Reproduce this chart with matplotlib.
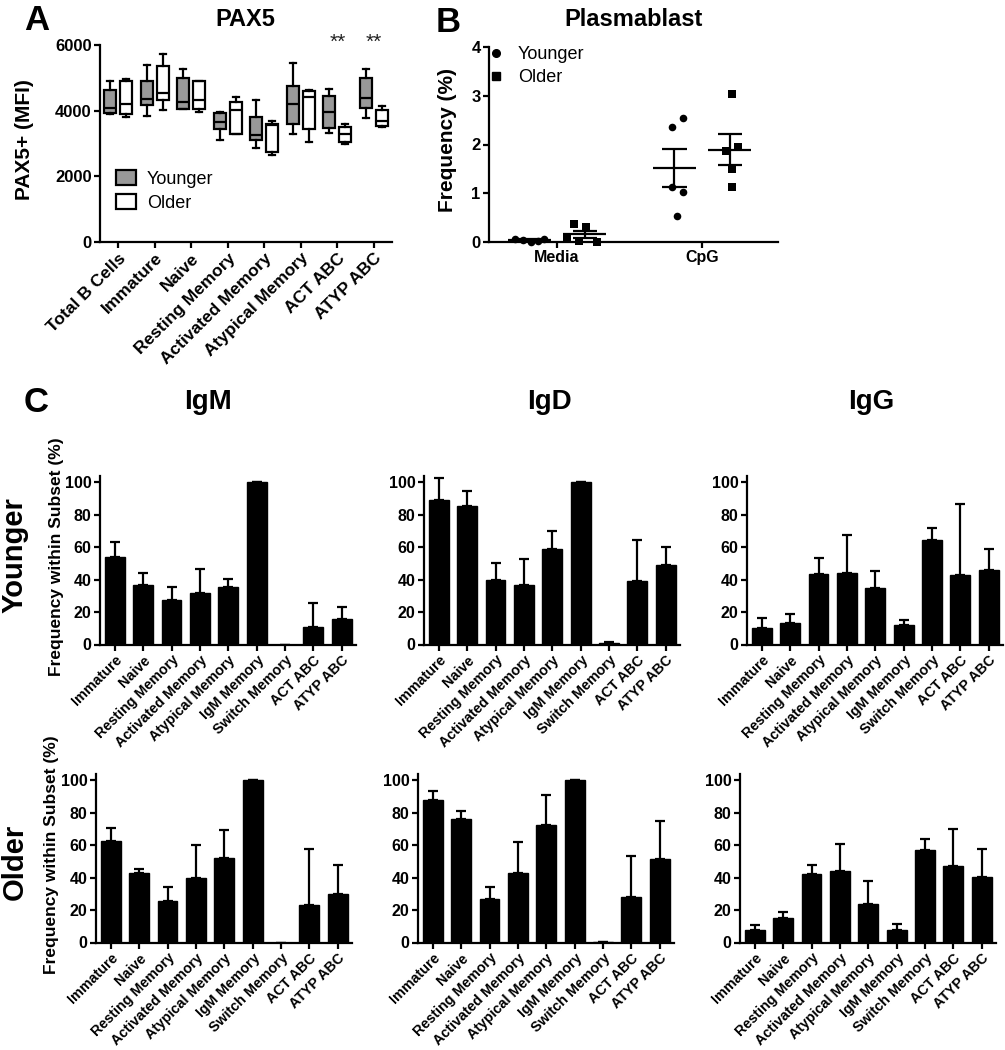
import matplotlib
matplotlib.use("Agg")
import matplotlib.pyplot as plt
import numpy as np
from matplotlib.lines import Line2D
from matplotlib.patches import Patch

plt.rcParams["font.family"] = ["Liberation Sans", "DejaVu Sans"]
plt.rcParams["font.weight"] = "bold"
plt.rcParams["axes.labelweight"] = "bold"

W, H = 1005, 1050

# ---- panel A: PAX5 MFI box plots ----
pax5_cells = ["Total B Cells", "Immature", "Naive", "Resting Memory",
              "Activated Memory", "Atypical Memory", "ACT ABC", "ATYP ABC"]
young_lo = [3910, 3830, 4050, 3120, 2870, 3300, 3330, 3790]
young_q1 = [3930, 4180, 4060, 3450, 3100, 3600, 3480, 4090]
young_med = [4090, 4370, 4260, 3650, 3250, 4210, 3960, 4400]
young_q3 = [4620, 4900, 5000, 3930, 3810, 4750, 4440, 5000]
young_hi = [4890, 5380, 5280, 3960, 4310, 5460, 4670, 5260]
old_lo = [3810, 4030, 3960, 3300, 2640, 3050, 2970, 3500]
old_q1 = [3910, 4310, 4060, 3300, 2740, 3450, 3050, 3530]
old_med = [4190, 4540, 4310, 4010, 3560, 4420, 3300, 3700]
old_q3 = [4890, 5360, 4890, 4260, 3580, 4600, 3500, 4010]
old_hi = [4950, 5740, 4890, 4420, 3690, 4620, 3580, 4130]
pax5_stars = ["", "", "", "", "", "", "**", "**"]

# ---- panel B: plasmablast frequency ----
stim = ["Media", "CpG"]
media_young = [0.07, 0.04, 0.01, 0.02, 0.06]
media_old = [0.36, 0.30, 0.08, 0.03, 0.01]
cpg_young = [2.36, 2.55, 1.13, 1.03, 0.53]
cpg_old = [3.04, 1.86, 1.95, 1.50, 1.13]

# ---- panel C: isotype frequency within subset (mean, SEM) ----
subsets = ["Immature", "Naive", "Resting Memory", "Activated Memory",
           "Atypical Memory", "IgM Memory", "Switch Memory", "ACT ABC", "ATYP ABC"]
igm_young = [54.0, 37.0, 27.4, 31.5, 35.2, 100, 0, 11.0, 15.5]
igm_young_sem = [9.3, 7.2, 7.8, 15.4, 5.1, 0, 0, 14.4, 7.4]
igd_young = [89.3, 85.4, 40.1, 37.0, 59.2, 100, 1.0, 39.3, 48.9]
igd_young_sem = [13.4, 9.3, 10.5, 15.6, 10.8, 0, 0.3, 25.0, 11.3]
igg_young = [10.0, 13.4, 43.8, 44.4, 35.0, 12.2, 64.7, 43.2, 45.8]
igg_young_sem = [6.3, 5.4, 9.8, 23.4, 10.2, 2.9, 7.2, 43.7, 13.4]
igm_old = [62.7, 43.0, 25.5, 39.9, 52.2, 100, 0, 23.1, 30.0]
igm_old_sem = [8.2, 2.6, 8.5, 20.3, 17.4, 0, 0, 34.9, 18.1]
igd_old = [87.7, 76.0, 26.8, 42.6, 72.3, 100, 0.5, 28.2, 51.6]
igd_old_sem = [6.1, 5.1, 7.6, 19.2, 18.5, 0, 0, 25.0, 23.4]
igg_old = [8.0, 15.3, 42.2, 44.2, 23.7, 7.5, 57.3, 47.1, 40.5]
igg_old_sem = [3.0, 3.7, 5.5, 16.8, 14.3, 4.0, 6.4, 23.2, 17.2]

# horizontal scatter offsets for the dot plot (layout only)
media_young_dx = [-0.10, -0.045, 0.01, 0.06, 0.10]
media_old_dx = [-0.076, 0.007, -0.124, -0.04, 0.083]
cpg_young_dx = [-0.017, 0.059, -0.017, 0.059, 0.017]
cpg_old_dx = [0.017, -0.024, 0.059, 0.017, 0.017]

LW = 1.6
GRAY = "#999999"


def axes_px(fig, left, top, right, bottom):
    return fig.add_axes([left / W, 1 - bottom / H, (right - left) / W, (bottom - top) / H])


def label_px(fig, x, y, s, **kw):
    fig.text(x / W, 1 - y / H, s, ha=kw.pop("ha", "center"), va=kw.pop("va", "center"), **kw)


def prism(ax, labelsize):
    for side in ["top", "right"]:
        ax.spines[side].set_visible(False)
    for side in ["left", "bottom"]:
        ax.spines[side].set_linewidth(LW)
    ax.tick_params(direction="out", length=4.5, width=LW, labelsize=labelsize, pad=1.5)


def rotate_labels(ax, size):
    for lab in ax.get_xticklabels():
        lab.set_rotation(45)
        lab.set_ha("right")
        lab.set_va("top")
        lab.set_rotation_mode("anchor")
        lab.set_fontsize(size)


fig = plt.figure(figsize=(W / 100, H / 100), dpi=100)

# ---------------- A ----------------
ax = axes_px(fig, 100, 45, 392, 242)
pos = np.arange(len(pax5_cells))
young_stats = [dict(whislo=a, q1=b, med=c, q3=d, whishi=e)
               for a, b, c, d, e in zip(young_lo, young_q1, young_med, young_q3, young_hi)]
old_stats = [dict(whislo=a, q1=b, med=c, q3=d, whishi=e)
             for a, b, c, d, e in zip(old_lo, old_q1, old_med, old_q3, old_hi)]
for stats, offset, color in [(young_stats, -0.22, GRAY), (old_stats, 0.22, "white")]:
    ax.bxp(stats, positions=pos + offset, widths=0.34, patch_artist=True, showfliers=False,
           manage_ticks=False,
           boxprops=dict(facecolor=color, edgecolor="black", linewidth=LW),
           medianprops=dict(color="black", linewidth=LW),
           whiskerprops=dict(color="black", linewidth=LW),
           capprops=dict(color="black", linewidth=LW))
for i, star in enumerate(pax5_stars):
    if star:
        ax.text(i, 6080, star, ha="center", va="center", fontsize=15, weight="normal",
                color="#222222", clip_on=False)
ax.set_xlim(-0.5, len(pax5_cells) - 0.5)
ax.set_ylim(0, 6000)
ax.set_yticks([0, 2000, 4000, 6000])
ax.set_xticks(pos)
ax.set_xticklabels(pax5_cells)
prism(ax, 12)
rotate_labels(ax, 12.5)
ax.legend(handles=[Patch(facecolor=GRAY, edgecolor="black", linewidth=LW, label="Younger"),
                   Patch(facecolor="white", edgecolor="black", linewidth=LW, label="Older")],
          loc="upper left", bbox_to_anchor=(0.055, 0.365), frameon=False, borderpad=0,
          borderaxespad=0, handlelength=1.1, handleheight=0.9, handletextpad=0.6,
          labelspacing=0.35, prop=dict(size=13, weight="normal"))
label_px(fig, 245, 20, "PAX5", fontsize=17, weight="bold")
label_px(fig, 25, 140, "PAX5+ (MFI)", fontsize=15, weight="bold", rotation=90)
label_px(fig, 24, 20, "A", fontsize=25, weight="bold", ha="left")

# ---------------- B ----------------
ax = axes_px(fig, 489, 47, 778, 242)
groups = [(0, -0.19, media_young, media_young_dx, "o"),
          (0, 0.19, media_old, media_old_dx, "s"),
          (1, -0.19, cpg_young, cpg_young_dx, "o"),
          (1, 0.19, cpg_old, cpg_old_dx, "s")]
for cat, off, vals, dx, marker in groups:
    vals = np.asarray(vals)
    x0 = cat + off
    ax.scatter(x0 + np.asarray(dx), vals, marker=marker, s=30, color="black", zorder=3,
               clip_on=False, linewidths=0)
    mean = vals.mean()
    sem = vals.std(ddof=1) / np.sqrt(len(vals))
    ax.hlines(mean, x0 - 0.15, x0 + 0.15, color="black", lw=LW)
    ax.hlines([mean - sem, mean + sem], x0 - 0.083, x0 + 0.083, color="black", lw=LW)
    ax.vlines(x0, mean - sem, mean + sem, color="black", lw=LW)
ax.set_xlim(-0.469, 1.524)
ax.set_ylim(0, 4)
ax.set_yticks([0, 1, 2, 3, 4])
ax.set_xticks([0, 1])
ax.set_xticklabels(stim)
prism(ax, 12)
ax.tick_params(axis="x", labelsize=11.5)
ax.legend(handles=[Line2D([], [], marker="o", ls="none", color="black", markersize=5.5, label="Younger"),
                   Line2D([], [], marker="s", ls="none", color="black", markersize=5.5, label="Older")],
          loc="upper left", bbox_to_anchor=(0.0, 1.005), frameon=False, borderpad=0,
          borderaxespad=0, handlelength=0.8, handletextpad=0.8, labelspacing=0.35,
          prop=dict(size=13, weight="normal"))
label_px(fig, 634, 20, "Plasmablast", fontsize=17, weight="bold")
label_px(fig, 447, 140, "Frequency (%)", fontsize=15, weight="bold", rotation=90)
label_px(fig, 436, 22, "B", fontsize=25, weight="bold", ha="left")

# ---------------- C ----------------
rows = [
    (475.5, 644.5, [(100, igm_young, igm_young_sem), (424, igd_young, igd_young_sem),
                    (747, igg_young, igg_young_sem)]),
    (773.5, 942.5, [(96, igm_old, igm_old_sem), (418, igd_old, igd_old_sem),
                    (740, igg_old, igg_old_sem)]),
]
xs = np.arange(len(subsets))
for top, bottom, panels in rows:
    for left, means, sems in panels:
        ax = axes_px(fig, left, top, left + 256, bottom)
        ax.bar(xs, means, width=0.70, color="black", edgecolor="black", linewidth=1)
        ax.errorbar(xs, means, yerr=[np.zeros(len(sems)), sems], fmt="none", ecolor="black",
                    elinewidth=LW, capsize=3.6, capthick=LW)
        ax.set_xlim(-0.52, len(subsets) - 0.5)
        ax.set_ylim(0, 104.3)
        ax.set_yticks([0, 20, 40, 60, 80, 100])
        ax.set_xticks(xs)
        ax.set_xticklabels(subsets)
        prism(ax, 11.5)
        rotate_labels(ax, 10.3)

for x, t in [(208, "IgM"), (549, "IgD"), (871, "IgG")]:
    label_px(fig, x, 402, t, fontsize=20, weight="bold")
label_px(fig, 24, 403, "C", fontsize=25, weight="bold", ha="left")
label_px(fig, 15, 555, "Younger", fontsize=21, weight="bold", rotation=90)
label_px(fig, 15, 862, "Older", fontsize=21, weight="bold", rotation=90)
label_px(fig, 57, 557, "Frequency within Subset (%)", fontsize=12.5, weight="bold", rotation=90)
label_px(fig, 52, 855, "Frequency within Subset (%)", fontsize=12.5, weight="bold", rotation=90)

fig.savefig("out.png", dpi=100)
